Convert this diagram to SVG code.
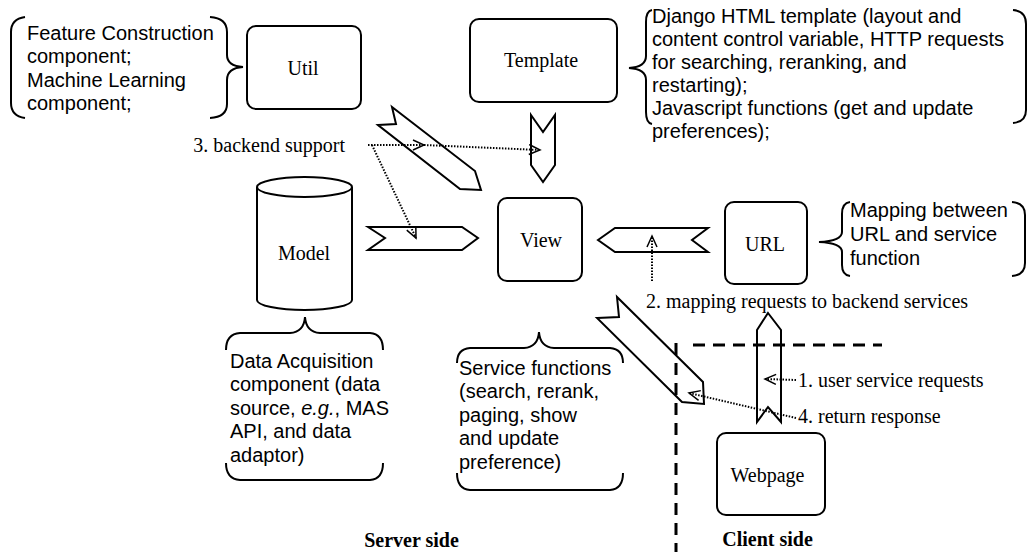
<svg xmlns="http://www.w3.org/2000/svg" width="1028" height="552" viewBox="0 0 1028 552">
<defs>
<style>
.box{fill:#fff;stroke:#000;stroke-width:2}
.shape{fill:#fff;stroke:#000;stroke-width:2;stroke-linejoin:miter}
.brace{fill:none;stroke:#000;stroke-width:2}
.dot{fill:none;stroke:#000;stroke-width:2;stroke-dasharray:1.5 1.5}
.dash{fill:none;stroke:#000;stroke-width:3;stroke-dasharray:12 8}
.tn{font-family:"Liberation Serif","Times New Roman",serif;font-size:20px;fill:#000}
.ar{font-family:"Liberation Sans",Arial,sans-serif;font-size:20px;fill:#000}
.b{font-weight:bold}
</style>
<marker id="ah" markerWidth="14" markerHeight="14" refX="12" refY="6" orient="auto" markerUnits="userSpaceOnUse">
<path d="M1,1 L12,6 L1,11" fill="none" stroke="#000" stroke-width="1.5"/>
</marker>
</defs>
<rect width="1028" height="552" fill="#fff"/>

<g id="util">
<rect class="box" x="247" y="26" width="114" height="83" rx="9"/>
<text class="tn" x="303" y="75" text-anchor="middle">Util</text>
</g>
<g id="util-note">
<path class="brace" d="M25,17 Q11,19 11,32 L11,103 Q11,116 25,118"/>
<path class="brace" d="M210,17 Q227,18 227,32 L227,55 Q227,66 243,67 Q227,68 227,80 L227,104 Q227,117 210,118"/>
<text class="ar" x="27" y="40">Feature Construction</text>
<text class="ar" x="27" y="63.4">component;</text>
<text class="ar" x="27" y="86.8">Machine Learning</text>
<text class="ar" x="27" y="110.2">component;</text>
</g>

<g id="template">
<rect class="box" x="470" y="19" width="147" height="83" rx="9"/>
<text class="tn" x="541" y="67" text-anchor="middle">Template</text>
</g>
<g id="template-note">
<path class="brace" d="M652,10 Q646,11 646,22 L646,56 Q646,67 629,68 Q646,69 646,80 L646,112 Q646,123 652,124"/>
<path class="brace" d="M1013,10 Q1026,11 1026,24 L1026,110 Q1026,122 1013,123"/>
<text class="ar" x="652" y="23">Django HTML template (layout and</text>
<text class="ar" x="652" y="46">content control variable, HTTP requests</text>
<text class="ar" x="652" y="69">for searching, reranking, and</text>
<text class="ar" x="652" y="92">restarting);</text>
<text class="ar" x="652" y="115">Javascript functions (get and update</text>
<text class="ar" x="652" y="138">preferences);</text>
</g>

<g id="model">
<path class="box" d="M257,187 L257,300 A47.5,10 0 0 0 352,300 L352,187"/>
<ellipse class="box" cx="304.5" cy="187" rx="47.5" ry="10"/>
<text class="tn" x="304" y="260" text-anchor="middle">Model</text>
</g>
<g id="model-note">
<path class="brace" d="M226,350 Q226,334 240,333 L290,333 Q304,332 305,317 Q306,332 320,333 L370,333 Q383,334 383,350"/>
<path class="brace" d="M226,463 Q226,479 240,480 L370,480 Q383,479 383,463"/>
<text class="ar" x="230" y="368">Data Acquisition</text>
<text class="ar" x="230" y="391.4">component (data</text>
<text class="ar" x="230" y="414.8">source, <tspan font-style="italic">e.g.</tspan>, MAS</text>
<text class="ar" x="230" y="438.2">API, and data</text>
<text class="ar" x="230" y="461.6">adaptor)</text>
</g>

<g id="view">
<rect class="box" x="498" y="198" width="84" height="83" rx="9"/>
<text class="tn" x="541" y="247" text-anchor="middle">View</text>
</g>
<g id="view-note">
<path class="brace" d="M457,363 Q457,349 470,348 L524,348 Q538,347 539,332 Q540,347 554,348 L610,348 Q623,349 623,363"/>
<path class="brace" d="M457,473 Q457,489 470,490 L610,490 Q623,489 623,473"/>
<text class="ar" x="459" y="375">Service functions</text>
<text class="ar" x="459" y="398.4">(search, rerank,</text>
<text class="ar" x="459" y="421.8">paging, show</text>
<text class="ar" x="459" y="445.2">and update</text>
<text class="ar" x="459" y="468.6">preference)</text>
</g>

<g id="url">
<rect class="box" x="725" y="202" width="82" height="82" rx="9"/>
<text class="tn" x="765" y="251" text-anchor="middle">URL</text>
</g>
<g id="url-note">
<path class="brace" d="M850,202 Q842,203 842,214 L842,232 Q842,241 819,242 Q842,243 842,252 L842,265 Q842,275 850,276"/>
<path class="brace" d="M1012,202 Q1025,203 1025,215 L1025,263 Q1025,275 1012,276"/>
<text class="ar" x="850" y="217">Mapping between</text>
<text class="ar" x="850" y="241">URL and service</text>
<text class="ar" x="850" y="265">function</text>
</g>

<g id="webpage">
<rect class="box" x="717" y="433" width="108" height="82" rx="9"/>
<text class="tn" x="767.5" y="482" text-anchor="middle">Webpage</text>
</g>

<g id="connectors">
<polygon class="shape" points="378,125 396,124 392,107 475,171 481,190 460,189"/>
<polygon class="shape" points="531,115 543,132 555,115 555,165 543,182 531,165"/>
<polygon class="shape" points="368,227 385,238 368,250 462,250 478,238 462,227"/>
<polygon class="shape" points="598,240 615,228 708,228 692,240 708,252 615,252"/>
<polygon class="shape" points="597,318 619,317 617,297 703,382 704,404 682,402"/>
<polygon class="shape" points="768,313 781,330 781,422 768,407 757,422 757,330"/>

<path class="dash" d="M676,343 L676,552"/>
<path class="dash" d="M693,345 L882,345"/>

<path class="dot" d="M368,145 L424,145" marker-end="url(#ah)"/>
<path class="dot" d="M424,145 L540,150" marker-end="url(#ah)"/>
<path class="dot" d="M372,145 L416,238" marker-end="url(#ah)"/>
<path class="dot" d="M652,281 L652,236" marker-end="url(#ah)"/>
<path class="dot" d="M796,380 L765,379" marker-end="url(#ah)"/>
<path class="dot" d="M796,418 L689,393" marker-end="url(#ah)"/>
</g>

<g id="labels">
<text class="tn" x="345" y="152" text-anchor="end">3. backend support</text>
<text class="tn" x="646" y="308">2. mapping requests to backend services</text>
<text class="tn" x="798" y="387">1. user service requests</text>
<text class="tn" x="798" y="423">4. return response</text>
<text class="tn b" x="411.5" y="547" text-anchor="middle">Server side</text>
<text class="tn b" x="767.5" y="546" text-anchor="middle">Client side</text>
</g>
</svg>
